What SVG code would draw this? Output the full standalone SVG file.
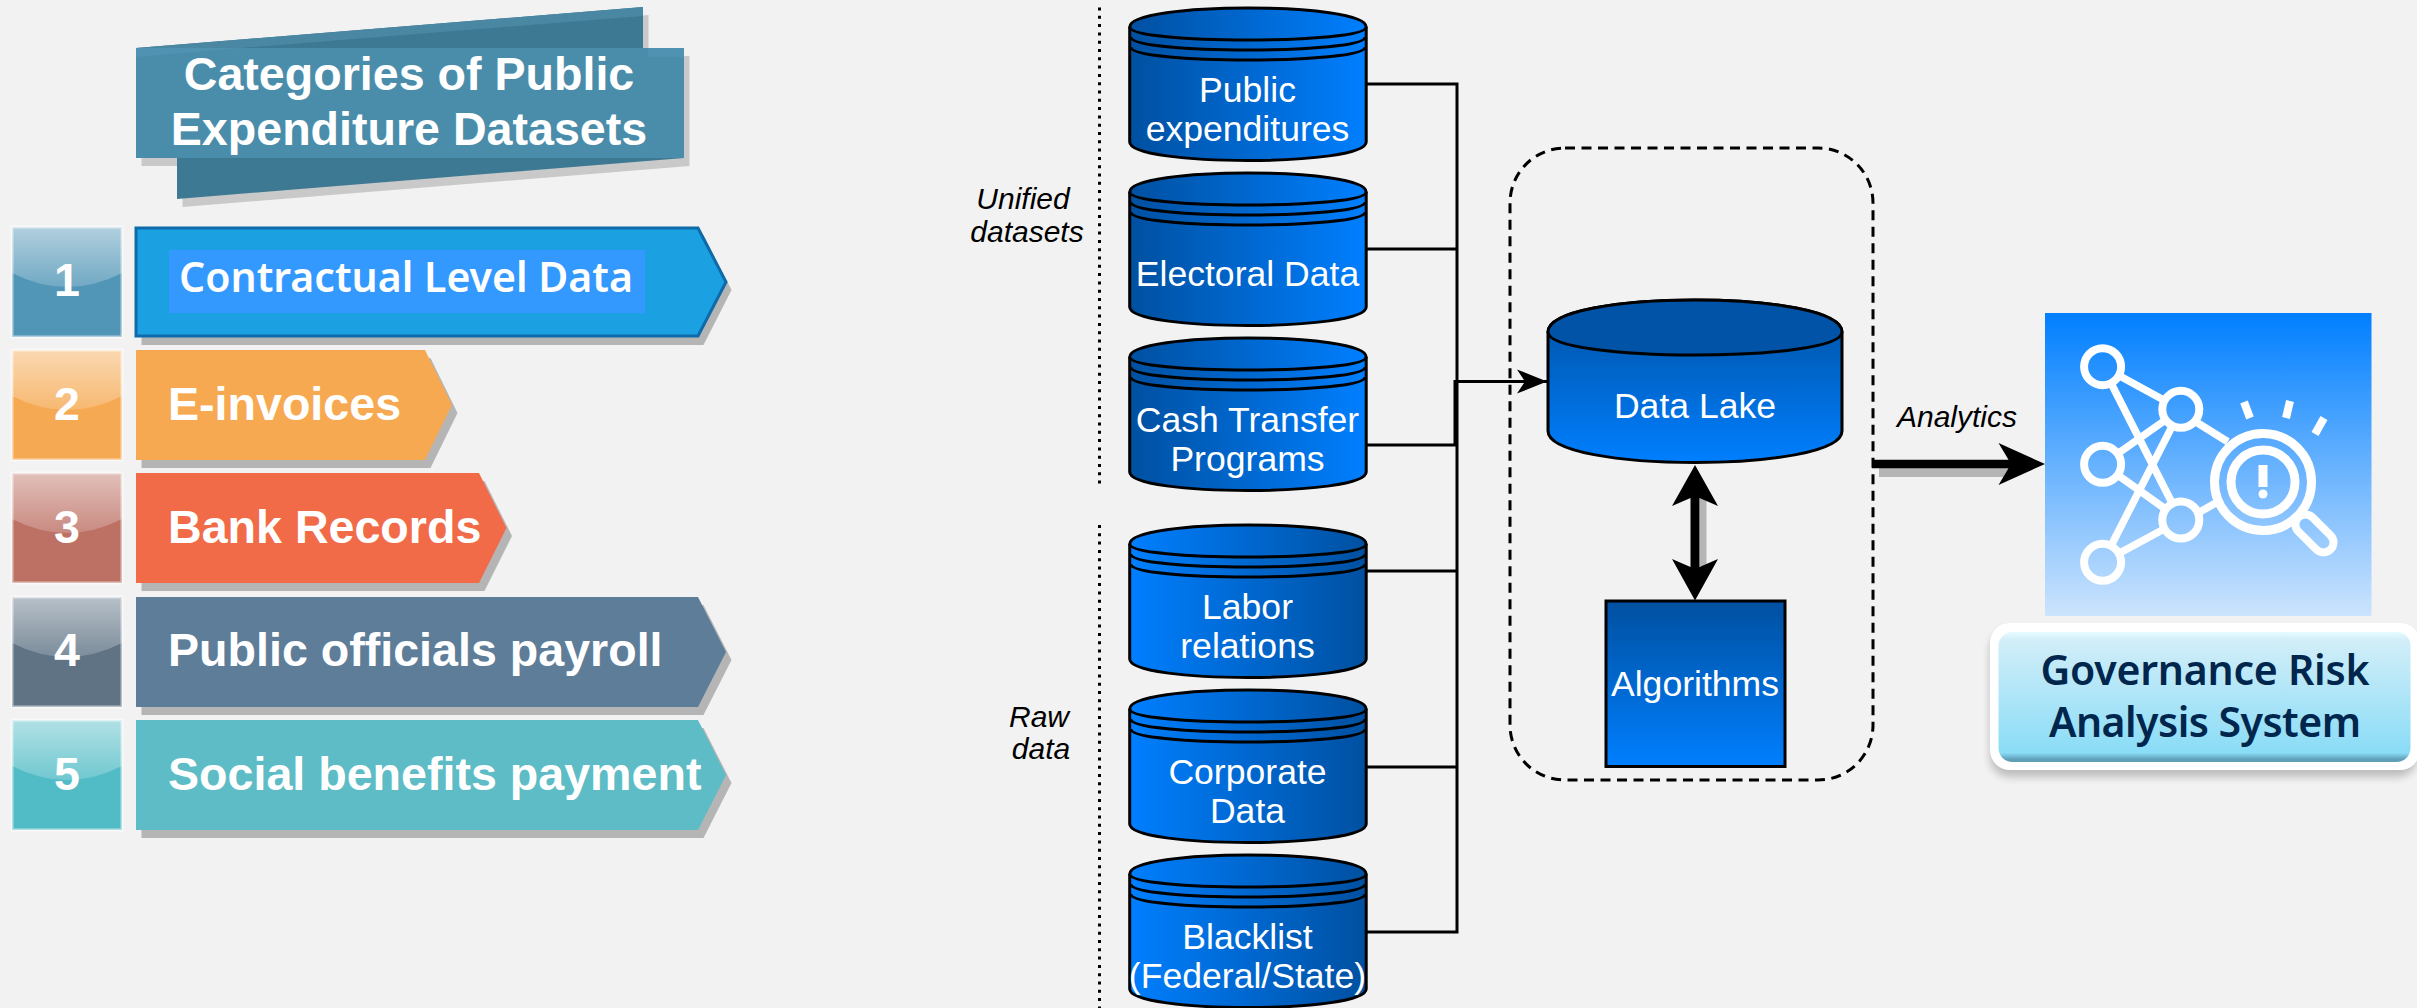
<svg xmlns="http://www.w3.org/2000/svg" width="2417" height="1008" viewBox="0 0 2417 1008">
<style>
.lb{font-family:"Liberation Sans",Arial,sans-serif;font-weight:700;fill:#fff;font-size:46.6px}
.n{text-anchor:middle}
.c{font-family:"Liberation Sans",Arial,sans-serif;fill:#fff;font-size:35.6px;text-anchor:middle}
.i{font-family:"Liberation Sans",Arial,sans-serif;font-style:italic;fill:#000;font-size:30px;text-anchor:middle}
.t{font-family:"Noto Sans",Tahoma,sans-serif;font-weight:600;font-size:41px}
.sh{fill:#b5b5b5}
.sq{stroke:#fff;stroke-opacity:.55;stroke-width:3}
.ln{fill:none;stroke:#000;stroke-width:3}
.ic{fill:none;stroke:#fff;stroke-width:8}
</style>
<defs>
<linearGradient id="gl" x1="0" y1="0" x2="0" y2="1"><stop offset="0" stop-color="#fff" stop-opacity=".55"/><stop offset="1" stop-color="#fff" stop-opacity=".18"/></linearGradient>
<linearGradient id="bl" x1="0" y1="0" x2="1" y2="0"><stop offset="0" stop-color="#0050a0"/><stop offset="1" stop-color="#007fff"/></linearGradient>
<linearGradient id="br" x1="0" y1="0" x2="1" y2="0"><stop offset="0" stop-color="#007fff"/><stop offset="1" stop-color="#0050a0"/></linearGradient>
<linearGradient id="bv" x1="0" y1="0" x2="0" y2="1"><stop offset="0" stop-color="#0050a0"/><stop offset="1" stop-color="#007fff"/></linearGradient>
<linearGradient id="ib" x1="0" y1="0" x2="0" y2="1"><stop offset="0" stop-color="#007fff"/><stop offset="1" stop-color="#cce4fd"/></linearGradient>
<linearGradient id="lb" x1="0" y1="0" x2="0" y2="1"><stop offset="0" stop-color="#e6fbff"/><stop offset=".06" stop-color="#d2eef8"/><stop offset=".93" stop-color="#8adcf7"/><stop offset=".98" stop-color="#5f9fb8"/><stop offset="1" stop-color="#5f9fb8"/></linearGradient>
<filter id="sf" x="-5%" y="-10%" width="110%" height="125%"><feGaussianBlur stdDeviation="4"/></filter>
<path id="gloss" d="M0,0H110V46Q55,74 0,46Z" fill="url(#gl)"/>
<g id="cyl">
<path d="M0,19C0,-6.33 236.500,-6.33 236.500,19V134C236.500,158.670 0,158.670 0,134Z" stroke="#000" stroke-width="3"/>
<path class="ln" d="M0,19C0,36.330 236.500,36.330 236.500,19"/>
<path class="ln" d="M1,29C1,46.330 235.500,46.330 235.500,29"/>
<path class="ln" d="M1,39C1,56.330 235.500,56.330 235.500,39"/>
</g>
<marker id="ah" markerUnits="userSpaceOnUse" markerWidth="32" markerHeight="26" refX="30" refY="13" orient="auto"><path d="M0,1L30,13L0,25L8,13Z" fill="#000"/></marker>
</defs>
<rect width="2417" height="1008" fill="#f2f2f2"/>

<g id="title">
<polygon points="141.500,56 648.500,15 648.500,56 689.500,56 689.500,166 182.500,207 182.500,166 141.500,166" fill="#c9c9c9"/>
<polygon points="136,48 643,7 643,48 684,48 684,158 177,199 177,158 136,158" fill="#3e7993"/>
<polygon points="136,48 643,7 643,16 240,48" fill="#4a87a2"/>
<rect x="136" y="48" width="548" height="110" fill="#4a8dab"/>
<polygon points="136,48 240,48 136,57" fill="#5092b1"/>
<rect x="648" y="48" width="36" height="9" fill="#5092b1"/>
<text class="lb n" x="409" y="90">Categories of Public</text>
<text class="lb n" x="409" y="145">Expenditure Datasets</text>
</g>

<g id="item1">
<rect class="sq" x="12" y="227" width="110" height="110" fill="#5296b7"/><use href="#gloss" x="12" y="227"/>
<text class="lb n" x="67" y="296">1</text>
<polygon class="sh" points="141.500,235 703.500,235 731.500,290 703.500,345 141.500,345"/>
<polygon points="136,228 698,228 726,282 698,336 136,336" fill="#1ba1e2" stroke="#0e6aa8" stroke-width="3"/>
<rect x="169" y="250" width="476" height="63" fill="#3399ff"/>
<text class="t" x="179" y="292" fill="#fff" textLength="454">Contractual Level Data</text>
</g>
<g id="item2">
<rect class="sq" x="12" y="350" width="110" height="110" fill="#f5a952"/><use href="#gloss" x="12" y="350"/>
<text class="lb n" x="67" y="420">2</text>
<polygon class="sh" points="141.500,358 430.500,358 457.500,413 430.500,468 141.500,468"/>
<polygon points="136,350 425,350 452,405 425,460 136,460" fill="#f7a952"/>
<text class="lb" x="168" y="420">E-invoices</text>
</g>
<g id="item3">
<rect class="sq" x="12" y="473" width="110" height="110" fill="#bd7165"/><use href="#gloss" x="12" y="473"/>
<text class="lb n" x="67" y="543">3</text>
<polygon class="sh" points="141.500,481 484.500,481 512,536 484.500,591 141.500,591"/>
<polygon points="136,473 479,473 506.500,528 479,583 136,583" fill="#f26b48"/>
<text class="lb" x="168" y="543">Bank Records</text>
</g>
<g id="item4">
<rect class="sq" x="12" y="597" width="110" height="110" fill="#5f7385"/><use href="#gloss" x="12" y="597"/>
<text class="lb n" x="67" y="666">4</text>
<polygon class="sh" points="141.500,605 703.500,605 731.500,660 703.500,715 141.500,715"/>
<polygon points="136,597 698,597 726,652 698,707 136,707" fill="#5d7d99"/>
<text class="lb" x="168" y="666">Public officials payroll</text>
</g>
<g id="item5">
<rect class="sq" x="12" y="720" width="110" height="110" fill="#52bcc6"/><use href="#gloss" x="12" y="720"/>
<text class="lb n" x="67" y="790">5</text>
<polygon class="sh" points="141.500,728 703.500,728 731.500,783 703.500,838 141.500,838"/>
<polygon points="136,720 698,720 726,775 698,830 136,830" fill="#5dbcc5"/>
<text class="lb" x="168" y="790">Social benefits payment</text>
</g>

<g id="dividers" fill="none" stroke="#000" stroke-width="3" stroke-dasharray="3 5.300">
<path d="M1099.500,7.500V488"/>
<path d="M1099.500,525V1008"/>
</g>
<text class="i" x="1023" y="209">Unified</text>
<text class="i" x="1027" y="242">datasets</text>
<text class="i" x="1039" y="727">Raw</text>
<text class="i" x="1041" y="759">data</text>

<g id="connectors">
<path class="ln" d="M1366,84H1457V932H1366M1366,249H1457M1366,445H1457M1366,571H1457M1366,767H1457"/>
<path class="ln" d="M1455,445V381.500H1517"/>
<path d="M1517,381.500L1547,381.500" stroke="#000" stroke-width="3" marker-end="url(#ah)" fill="none"/>
<rect x="1700" y="498" width="6.500" height="68" fill="#b5b5b5"/>
<path d="M1695,465L1718,506L1699.500,498V567L1718,559L1695,600.500L1672,559L1690.500,567V498L1672,506Z" fill="#000"/>
<rect x="1879" y="468" width="130" height="9" fill="#b5b5b5"/>
<path d="M1872,459.800H2008.500L1998.500,443L2045,464L1998.500,485L2008.500,468.200H1872Z" fill="#000"/>
</g>

<g id="cyl1"><use href="#cyl" x="1129.700" y="8" fill="url(#bl)"/><text class="c" x="1247.500" y="102">Public</text><text class="c" x="1247.500" y="140.500">expenditures</text></g>
<g id="cyl2"><use href="#cyl" x="1129.700" y="173" fill="url(#bl)"/><text class="c" x="1247.500" y="286">Electoral Data</text></g>
<g id="cyl3"><use href="#cyl" x="1129.700" y="338" fill="url(#bl)"/><text class="c" x="1247.500" y="432">Cash Transfer</text><text class="c" x="1247.500" y="470.500">Programs</text></g>
<g id="cyl4"><use href="#cyl" x="1129.700" y="525" fill="url(#br)"/><text class="c" x="1247.500" y="619">Labor</text><text class="c" x="1247.500" y="658">relations</text></g>
<g id="cyl5"><use href="#cyl" x="1129.700" y="690" fill="url(#br)"/><text class="c" x="1247.500" y="784">Corporate</text><text class="c" x="1247.500" y="823">Data</text></g>
<g id="cyl6"><use href="#cyl" x="1129.700" y="855" fill="url(#br)"/><text class="c" x="1247.500" y="949">Blacklist</text><text class="c" x="1247.500" y="988">(Federal/State)</text></g>

<rect id="group-box" x="1510" y="148" width="363" height="632" rx="55" ry="55" fill="none" stroke="#000" stroke-width="3" stroke-dasharray="10 6.500"/>

<g id="lake">
<path d="M1548,332C1548,289.300 1842,289.300 1842,332V431C1842,473 1548,473 1548,431Z" fill="url(#bv)" stroke="#000" stroke-width="3"/>
<path d="M1548,332C1548,362.700 1842,362.700 1842,332C1842,289.300 1548,289.300 1548,332Z" fill="#0053a6" stroke="#000" stroke-width="3"/>
<text class="c" x="1695" y="418">Data Lake</text>
</g>
<g id="algorithms">
<rect x="1606" y="601" width="179" height="165.500" fill="url(#bv)" stroke="#000" stroke-width="3"/>
<text class="c" x="1695" y="696">Algorithms</text>
</g>

<text class="i" x="1957" y="427">Analytics</text>

<g id="icon">
<rect x="2045" y="313" width="326.500" height="303" fill="url(#ib)"/>
<g class="ic" stroke-linecap="butt">
<path d="M2120.200,376.300L2163.200,399.700M2111.700,384.500L2171.700,502.200M2164.400,420.800L2119,452.800M2171.700,427.100L2111.700,544.500M2118.900,475.900L2164.500,508.400M2120.200,552.800L2163.200,529.500M2195.700,421.700L2227.700,441.700M2200.300,511.700L2215.200,503.300" stroke-width="7.500"/>
<circle cx="2102.600" cy="366.700" r="18.500"/>
<circle cx="2180.800" cy="409.300" r="18.500"/>
<circle cx="2102.600" cy="464.300" r="18.500"/>
<circle cx="2180.800" cy="520" r="18.500"/>
<circle cx="2102.600" cy="562.300" r="18.500"/>
<rect x="50" y="-10" width="45.500" height="20" rx="10" transform="translate(2263 482) rotate(45)"/>
<circle cx="2263" cy="482" r="48.500" stroke-width="9"/>
<circle cx="2263" cy="482" r="32" stroke-width="9"/>
<path d="M2244,402L2250,418M2290,401L2286,418M2324,418L2315,434"/>
</g>
<rect x="2258.500" y="465" width="9" height="22" fill="#fff"/>
<circle cx="2263" cy="494" r="4.500" fill="#fff"/>
</g>

<g id="system-label">
<rect x="1990" y="630" width="427" height="147" rx="20" fill="#000" opacity=".22" filter="url(#sf)"/>
<rect x="1990" y="623" width="430" height="147" rx="20" fill="#fff"/>
<rect x="1998.500" y="632" width="412" height="130" rx="14" fill="url(#lb)"/>
<text class="t" x="2205" y="685" fill="#00264d" text-anchor="middle" textLength="329">Governance Risk</text>
<text class="t" x="2205" y="737" fill="#00264d" text-anchor="middle" textLength="312">Analysis System</text>
</g>
</svg>
